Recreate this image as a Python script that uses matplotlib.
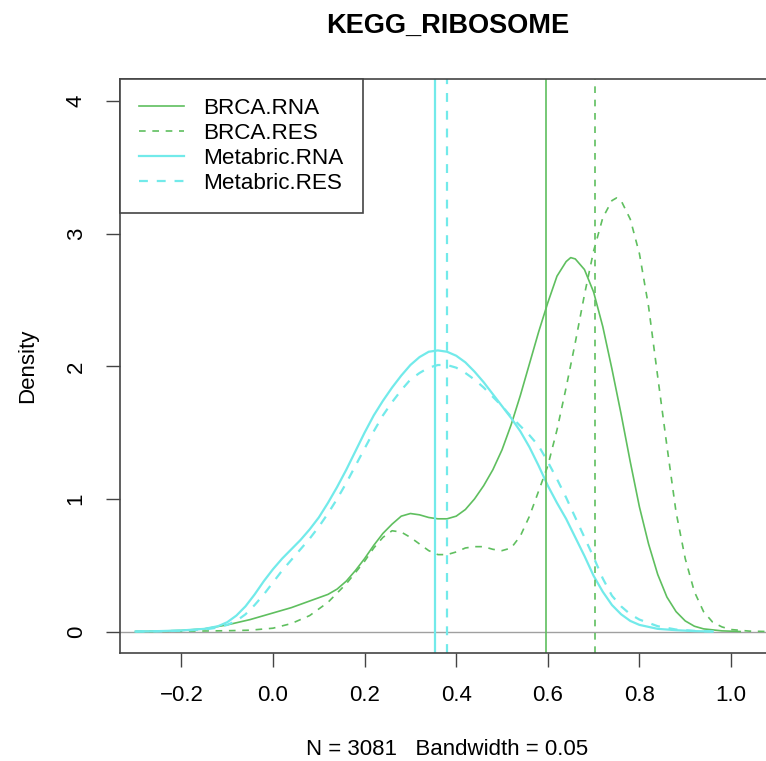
import matplotlib
matplotlib.use('Agg')
import matplotlib.pyplot as plt

plt.rcParams['font.family'] = ['Liberation Sans', 'DejaVu Sans']

# density curves (x, density)
rna_x = [-0.30, -0.25, -0.20, -0.15, -0.10, -0.05, 0.0, 0.04, 0.08, 0.12, 0.14, 0.16, 0.18, 0.20,
         0.22, 0.24, 0.26, 0.28, 0.30, 0.32, 0.34, 0.36, 0.38, 0.40, 0.42, 0.44, 0.46, 0.48, 0.50,
         0.52, 0.54, 0.56, 0.58, 0.60, 0.62, 0.64, 0.65, 0.66, 0.68, 0.70, 0.72, 0.74, 0.76, 0.78,
         0.80, 0.82, 0.84, 0.86, 0.88, 0.90, 0.92, 0.94, 0.98, 1.02]
brca_rna = [0.0, 0.003, 0.008, 0.02, 0.05, 0.09, 0.14, 0.18, 0.23, 0.28, 0.32, 0.38, 0.46, 0.55,
            0.65, 0.74, 0.81, 0.87, 0.89, 0.88, 0.86, 0.85, 0.85, 0.87, 0.92, 1.00, 1.10, 1.22, 1.37,
            1.56, 1.78, 2.02, 2.26, 2.48, 2.68, 2.79, 2.82, 2.81, 2.73, 2.56, 2.30, 1.98, 1.64, 1.28,
            0.94, 0.66, 0.43, 0.26, 0.15, 0.08, 0.04, 0.02, 0.005, 0.0]

res_x = [-0.30, -0.20, -0.10, -0.05, 0.0, 0.04, 0.08, 0.12, 0.16, 0.20, 0.22, 0.24, 0.26, 0.28,
         0.30, 0.32, 0.34, 0.36, 0.38, 0.40, 0.42, 0.44, 0.46, 0.48, 0.50, 0.52, 0.54, 0.56, 0.58,
         0.60, 0.62, 0.64, 0.66, 0.68, 0.70, 0.72, 0.74, 0.75, 0.76, 0.78, 0.80, 0.82, 0.84, 0.86,
         0.88, 0.90, 0.92, 0.94, 0.96, 0.98, 1.00, 1.04, 1.08]
brca_res = [0.0, 0.002, 0.006, 0.01, 0.025, 0.06, 0.12, 0.22, 0.36, 0.53, 0.63, 0.71, 0.76, 0.75,
            0.71, 0.66, 0.61, 0.58, 0.58, 0.60, 0.63, 0.64, 0.64, 0.62, 0.61, 0.63, 0.72, 0.87, 1.06,
            1.25, 1.52, 1.84, 2.18, 2.54, 2.87, 3.12, 3.25, 3.27, 3.25, 3.11, 2.85, 2.45, 1.92, 1.40,
            0.90, 0.55, 0.30, 0.15, 0.07, 0.035, 0.015, 0.003, 0.0]

met_x = [-0.30, -0.25, -0.20, -0.15, -0.12, -0.10, -0.08, -0.06, -0.04, -0.02, 0.0, 0.02, 0.04,
         0.06, 0.08, 0.10, 0.12, 0.14, 0.16, 0.18, 0.20, 0.22, 0.24, 0.26, 0.28, 0.30, 0.32, 0.34,
         0.36, 0.38, 0.40, 0.42, 0.44, 0.46, 0.48, 0.50, 0.52, 0.54, 0.56, 0.58, 0.60, 0.62, 0.64,
         0.66, 0.68, 0.70, 0.72, 0.74, 0.76, 0.78, 0.80, 0.84, 0.88, 0.92, 0.96]
met_rna = [0.0, 0.003, 0.008, 0.02, 0.04, 0.07, 0.12, 0.19, 0.28, 0.38, 0.47, 0.55, 0.62,
           0.69, 0.77, 0.86, 0.97, 1.09, 1.22, 1.36, 1.50, 1.63, 1.74, 1.84, 1.93, 2.01, 2.07, 2.11,
           2.12, 2.11, 2.08, 2.03, 1.96, 1.88, 1.79, 1.70, 1.61, 1.51, 1.39, 1.25, 1.10, 0.97, 0.85,
           0.71, 0.57, 0.42, 0.30, 0.20, 0.13, 0.08, 0.05, 0.02, 0.01, 0.003, 0.0]
met_res = [0.0, 0.002, 0.006, 0.015, 0.03, 0.05, 0.08, 0.13, 0.20, 0.28, 0.37, 0.46, 0.54,
           0.62, 0.70, 0.79, 0.89, 1.00, 1.12, 1.25, 1.38, 1.51, 1.63, 1.73, 1.82, 1.90, 1.95, 1.99,
           2.01, 2.01, 1.99, 1.95, 1.90, 1.84, 1.77, 1.70, 1.62, 1.55, 1.48, 1.40, 1.28, 1.15, 1.01,
           0.86, 0.71, 0.56, 0.40, 0.27, 0.19, 0.13, 0.09, 0.04, 0.015, 0.005, 0.0]

# medians drawn as vertical lines
vlines = {'BRCA.RNA': 0.596, 'BRCA.RES': 0.703, 'Metabric.RNA': 0.354, 'Metabric.RES': 0.379}

green = '#5fbf5f'
cyan = '#72eaea'

fig = plt.figure(figsize=(7.66, 7.61), dpi=100)
ax = fig.add_axes([120 / 766, 108 / 761, 655 / 766, 574 / 761])

ax.axhline(0, color='#a0a0a0', lw=1.0)
ax.plot(rna_x, brca_rna, color=green, lw=1.2, label='BRCA.RNA')
ax.plot(res_x, brca_res, color=green, lw=1.2, ls=(0, (4, 4)), label='BRCA.RES')
ax.plot(met_x, met_rna, color=cyan, lw=1.6, label='Metabric.RNA')
ax.plot(met_x, met_res, color=cyan, lw=1.6, ls=(0, (4, 4)), label='Metabric.RES')
ax.axvline(vlines['BRCA.RNA'], color=green, lw=1.2)
ax.axvline(vlines['BRCA.RES'], color=green, lw=1.2, ls=(0, (4, 4)))
ax.axvline(vlines['Metabric.RNA'], color=cyan, lw=1.6)
ax.axvline(vlines['Metabric.RES'], color=cyan, lw=1.6, ls=(0, (4, 4)))

ax.set_xlim(-0.334, 1.096)
ax.set_ylim(-0.162, 4.167)
ax.set_xticks([-0.2, 0.0, 0.2, 0.4, 0.6, 0.8, 1.0])
ax.set_xticklabels(['\u22120.2', '0.0', '0.2', '0.4', '0.6', '0.8', '1.0'])
ax.set_yticks([0, 1, 2, 3, 4])
for lab in ax.get_yticklabels():
    lab.set_rotation(90)
    lab.set_va('center')
ax.tick_params(axis='both', length=10, width=1, color='#444444', labelsize=16)
ax.tick_params(axis='x', pad=13)
ax.tick_params(axis='y', pad=14)
for sp in ax.spines.values():
    sp.set_color('#444444')
    sp.set_linewidth(1.2)

ax.set_xlabel('N = 3081   Bandwidth = 0.05', fontsize=16, labelpad=24)
ax.set_ylabel('Density', fontsize=16, labelpad=20)
ax.set_title('KEGG_RIBOSOME', fontsize=19.5, fontweight='bold', pad=33)

leg = ax.legend(loc='upper left', borderaxespad=0, fontsize=16.2, fancybox=False,
                framealpha=1, edgecolor='#444444', borderpad=0.85, handlelength=2.0,
                handletextpad=0.85, labelspacing=0.17)
leg.get_frame().set_linewidth(1.2)

plt.savefig('out.png', dpi=100)
